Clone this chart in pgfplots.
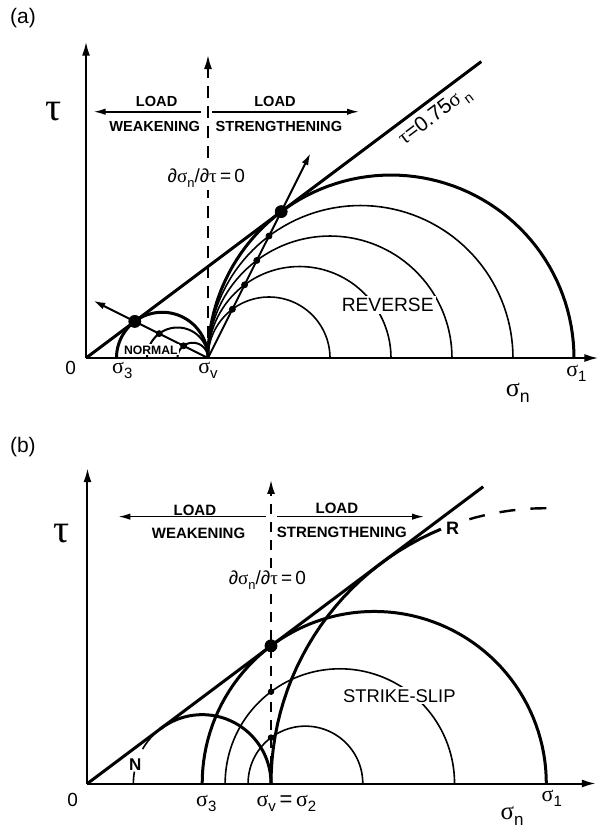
\documentclass[border=0pt]{standalone}
\usepackage{fontspec}
\setmainfont{Liberation Sans}
\newfontfamily\gr{Liberation Serif}
\usepackage{graphicx}
\usepackage{pgfplots}
\usepackage{pgfplotstable}
\pgfplotsset{compat=1.18}
\usetikzlibrary{arrows.meta}

% unit semicircle, 2.5 degree steps (index i = 2.5 i degrees)
\pgfplotstableread{
c s
1.0000 0.0000
0.9990 0.0436
0.9962 0.0872
0.9914 0.1305
0.9848 0.1736
0.9763 0.2164
0.9659 0.2588
0.9537 0.3007
0.9397 0.3420
0.9239 0.3827
0.9063 0.4226
0.8870 0.4617
0.8660 0.5000
0.8434 0.5373
0.8192 0.5736
0.7934 0.6088
0.7660 0.6428
0.7373 0.6756
0.7071 0.7071
0.6756 0.7373
0.6428 0.7660
0.6088 0.7934
0.5736 0.8192
0.5373 0.8434
0.5000 0.8660
0.4617 0.8870
0.4226 0.9063
0.3827 0.9239
0.3420 0.9397
0.3007 0.9537
0.2588 0.9659
0.2164 0.9763
0.1736 0.9848
0.1305 0.9914
0.0872 0.9962
0.0436 0.9990
0.0000 1.0000
-0.0436 0.9990
-0.0872 0.9962
-0.1305 0.9914
-0.1736 0.9848
-0.2164 0.9763
-0.2588 0.9659
-0.3007 0.9537
-0.3420 0.9397
-0.3827 0.9239
-0.4226 0.9063
-0.4617 0.8870
-0.5000 0.8660
-0.5373 0.8434
-0.5736 0.8192
-0.6088 0.7934
-0.6428 0.7660
-0.6756 0.7373
-0.7071 0.7071
-0.7373 0.6756
-0.7660 0.6428
-0.7934 0.6088
-0.8192 0.5736
-0.8434 0.5373
-0.8660 0.5000
-0.8870 0.4617
-0.9063 0.4226
-0.9239 0.3827
-0.9397 0.3420
-0.9537 0.3007
-0.9659 0.2588
-0.9763 0.2164
-0.9848 0.1736
-0.9914 0.1305
-0.9962 0.0872
-0.9990 0.0436
-1.0000 0.0000
}\unitcirc

\newcommand{\mohr}[3]{\addplot[line join=round,#3] table[x expr={#1+#2*\thisrow{c}}, y expr={#2*\thisrow{s}}]{\unitcirc};}
\newcommand{\sub}[1]{\raisebox{-0.45ex}{\scalebox{0.68}{#1}}}
\newcommand{\sg}{{\gr σ}}
\newcommand{\ta}{{\gr τ}}
\newcommand{\fs}[1]{\fontsize{#1}{#1}\selectfont}

\tikzset{
  thickc/.style={line width=1.5pt},
  medc/.style={line width=1pt},
  thinc/.style={line width=0.8pt},
  axl/.style={line width=1pt,-{Latex[length=7pt,width=4pt]}},
  arr/.style={line width=0.8pt,-{Latex[length=6pt,width=3.2pt]}},
}
\pgfplotsset{idx/.style 2 args={restrict expr to domain={\coordindex}{#1:#2}}}

\begin{document}
\begin{tikzpicture}
\path[use as bounding box] (0,0) rectangle (299.5pt,413.5pt);

% ---------------- panel (a) ----------------
\begin{axis}[at={(0.3pt,210.1pt)}, anchor=south west, scale only axis,
  width=298.9pt, height=203.1pt, xmin=-0.7, xmax=4.2, ymin=-0.4, ymax=2.93,
  hide axis, clip=false]
\addplot[axl] coordinates {(0,0) (4.2,0)};
\addplot[axl] coordinates {(0,0) (0,2.593)};
% reverse-faulting circles (sigma3 = sigma_v = 1)
\mohr{1.5}{0.5}{thinc}
\mohr{1.75}{0.75}{thinc}
\mohr{2}{1}{thinc}
\mohr{2.25}{1.25}{thinc}
\mohr{2.5}{1.5}{thickc}
% normal-faulting circles (sigma1 = sigma_v = 1)
\mohr{0.625}{0.375}{thickc}
\mohr{0.75}{0.25}{medc}
\mohr{0.875}{0.125}{medc}
% failure line
\addplot[thickc] coordinates {(0,0) (3.24,2.43)};
% dashed vertical
\addplot[line width=1pt, dash pattern=on 6pt off 4pt, -{Latex[length=7pt,width=4pt]}] coordinates {(1,0) (1,2.484)};
% stress paths
\addplot[medc,-{Latex[length=6pt,width=3.5pt]}] coordinates {(1,0) (1.84,1.68)};
\addplot[medc,-{Latex[length=6pt,width=3.5pt]}] coordinates {(1,0) (0.06,0.47)};
% load arrows
\addplot[arr] coordinates {(0.94,2.019) (0.062,2.019)};
\addplot[arr] coordinates {(1.033,2.019) (2.238,2.019)};
% labels
\node[font=\fs{10.5}] at (axis cs:-0.517,2.784) {(a)};
\node[font=\fs{20}] at (axis cs:-0.266,2.019) {\ta};
\node[font=\fs{9.5}] at (axis cs:-0.126,-0.085) {0};
\node[font=\fs{11}] at (axis cs:0.297,-0.104) {\sg\sub{3}};
\node[font=\fs{11}] at (axis cs:1.0,-0.104) {\sg\sub{v}};
\node[font=\fs{11}] at (axis cs:4.02,-0.125) {\sg\sub{1}};
\node[font=\fs{13}] at (axis cs:3.54,-0.287) {\sg\sub{n}};
\node[font=\fs{7.3}\bfseries] at (axis cs:0.579,2.101) {LOAD};
\node[font=\fs{7.3}\bfseries] at (axis cs:0.563,1.902) {WEAKENING};
\node[font=\fs{7.3}\bfseries] at (axis cs:1.549,2.101) {LOAD};
\node[font=\fs{7.3}\bfseries] at (axis cs:1.581,1.902) {STRENGTHENING};
\node[font=\fs{9.5}, fill=white, inner sep=1.5pt] at (axis cs:0.986,1.473) {∂\sg\sub{n}/∂\ta\,=\,0};
\node[font=\fs{10.5}, rotate=36.87, inner sep=0pt] at (axis cs:2.861,1.978) {\ta=0.75\sg\,\sub{n}};
\node[font=\fs{9.6}, fill=white, inner sep=1pt] at (axis cs:2.473,0.434) {REVERSE};
\node[font=\fs{6.1}\bfseries, fill=white, inner sep=0.6pt] at (axis cs:0.532,0.066) {NORMAL};
% dots
\addplot[only marks, mark=*, mark size=3pt] coordinates {(1.6,1.2) (0.4,0.3)};
\addplot[only marks, mark=*, mark size=1.5pt] coordinates {(1.2,0.4) (1.3,0.6) (1.4,0.8) (1.5,1.0) (0.6,0.2) (0.8,0.1)};
\end{axis}

% ---------------- panel (b) ----------------
\begin{axis}[at={(2.45pt,0pt)}, anchor=south west, scale only axis,
  width=296.4pt, height=200.7pt, xmin=-0.45, xmax=2.78, ymin=-0.237, ymax=1.95,
  hide axis, clip=false]
\addplot[axl] coordinates {(0,0) (2.77,0)};
\addplot[axl] coordinates {(0,0) (0,1.718)};
% normal circle N
\mohr{0.625}{0.375}{thickc, idx={0}{51}}
\mohr{0.625}{0.375}{thinc, idx={51}{60}}
\mohr{0.625}{0.375}{thinc, idx={68}{72}}
% strike-slip circles
\mohr{1.5625}{0.9375}{thickc}
\mohr{1.375}{0.625}{thinc}
\mohr{1.1875}{0.3125}{thinc}
% reverse circle R
\mohr{2.5}{1.5}{thickc, idx={45}{72}}
\mohr{2.5}{1.5}{line width=1.2pt, dash pattern=on 8pt off 7.5pt, idx={36}{43}}
% failure line
\addplot[thickc] coordinates {(0,0) (2.156,1.617)};
% dashed vertical
\addplot[line width=0.9pt, dash pattern=on 5pt off 4pt, -{Latex[length=7pt,width=4pt]}] coordinates {(1,0) (1,1.654)};
% load arrows
\addplot[arr] coordinates {(0.97,1.454) (0.168,1.454)};
\addplot[arr] coordinates {(1.032,1.454) (1.834,1.454)};
% labels
\node[font=\fs{10.5}] at (axis cs:-0.352,1.835) {(b)};
\node[font=\fs{20}] at (axis cs:-0.144,1.363) {\ta};
\node[font=\fs{9.5}] at (axis cs:-0.081,-0.09) {0};
\node[font=\fs{11}] at (axis cs:0.647,-0.108) {\sg\sub{3}};
\node[font=\fs{11}] at (axis cs:1.084,-0.108) {\sg\sub{v}\,=\,\sg\sub{2}};
\node[font=\fs{11}] at (axis cs:2.53,-0.079) {\sg\sub{1}};
\node[font=\fs{12.5}] at (axis cs:2.313,-0.18) {\sg\sub{n}};
\node[font=\fs{7.5}\bfseries] at (axis cs:0.585,1.49) {LOAD};
\node[font=\fs{7.5}\bfseries] at (axis cs:0.605,1.365) {WEAKENING};
\node[font=\fs{7.5}\bfseries] at (axis cs:1.359,1.497) {LOAD};
\node[font=\fs{7.5}\bfseries] at (axis cs:1.386,1.367) {STRENGTHENING};
\node[font=\fs{9.5}, fill=white, inner sep=1.5pt] at (axis cs:0.98,1.109) {∂\sg\sub{n}/∂\ta\,=\,0};
\node[font=\fs{9.2}, fill=white, inner sep=1pt] at (axis cs:1.699,0.477) {STRIKE-SLIP};
\node[font=\fs{9}\bfseries] at (axis cs:1.99,1.39) {R};
\node[font=\fs{8.5}\bfseries] at (axis cs:0.26,0.105) {N};
% dots
\addplot[only marks, mark=*, mark size=3pt] coordinates {(1,0.75)};
\addplot[only marks, mark=*, mark size=1.4pt] coordinates {(1,0.5) (1,0.25)};
\end{axis}
\end{tikzpicture}
\end{document}
